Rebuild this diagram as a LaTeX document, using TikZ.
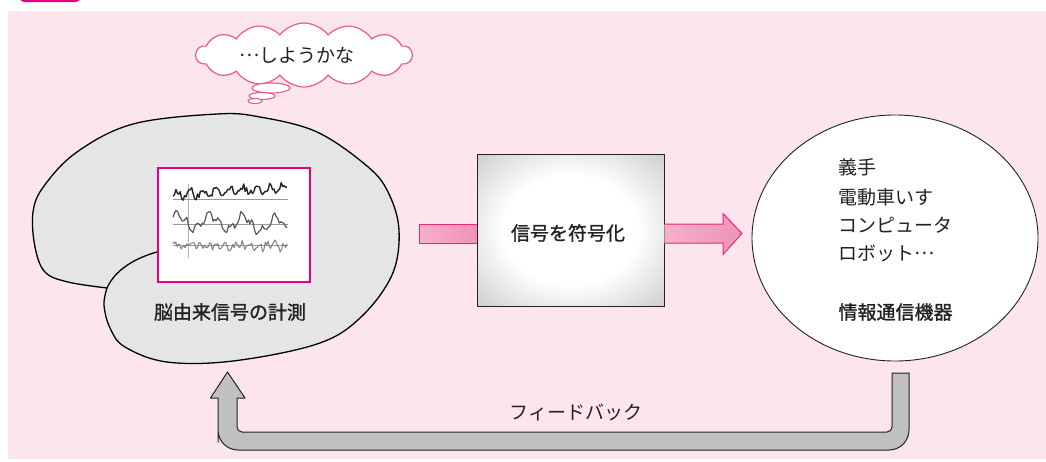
\documentclass[tikz,border=0pt]{standalone}
\usepackage{fontspec}
\setmainfont{Noto Sans CJK JP}
\newfontfamily\jpmid{Noto Sans CJK JP}[FakeBold=1.2]
\usetikzlibrary{calc,shapes.geometric,shapes.symbols}

\definecolor{bgpink}{RGB}{252,229,237}
\definecolor{mag}{RGB}{228,0,127}
\definecolor{cloudpink}{RGB}{236,88,140}
\definecolor{arrowfillA}{RGB}{246,176,203}
\definecolor{arrowfillB}{RGB}{240,146,184}
\definecolor{arrowline}{RGB}{230,40,120}
\definecolor{brainfill}{RGB}{229,229,232}
\definecolor{fbfill}{RGB}{192,192,192}
\definecolor{ink}{RGB}{34,34,34}
\definecolor{glowmid}{RGB}{176,176,176}
\definecolor{glowedge}{RGB}{130,130,130}

% soft white glow in the middle of the coding box
\pgfdeclareradialshading{boxglow}{\pgfpoint{0bp}{0bp}}{%
  color(0bp)=(white); color(18bp)=(white); color(46bp)=(glowmid); color(72bp)=(glowedge)}

% centred ellipsis, as in Japanese typesetting
\newcommand{\jpdots}{\raisebox{0.3em}{…}}

\tikzset{
  jp/.style={text=ink, font=\fontsize{19}{23}\selectfont},
  jpbold/.style={text=ink, font=\fontsize{19}{23}\selectfont\jpmid},
  brainline/.style={draw=black, line width=1.3pt},
  wavebox/.style={draw=mag, fill=white, line width=1.4pt, inner sep=0pt},
  bubble/.style={ellipse, draw=cloudpink, fill=white, line width=1.1pt, inner sep=0pt},
  pinkarrow/.style={draw=arrowline, line width=1pt, left color=arrowfillA, right color=arrowfillB},
  fbarrow/.style={draw=ink, line width=1pt, fill=fbfill, line join=round},
  trace/.style={line width=#1, line join=round},
}

\begin{document}
\begin{tikzpicture}[x=1pt,y=-1pt]
\useasboundingbox (0,0) rectangle (1046,461);

% page background and heading badge
\fill[bgpink] (8,11) rectangle (1046,459);
\fill[mag, rounded corners=4pt] (20,-12) rectangle (80,2);

% brain outline
\filldraw[brainline, fill=brainfill] plot[smooth, tension=0.6] coordinates {
  (107,288) (104,305) (110,328) (125,347) (167,362) (233,361) (317,344)
  (360,318) (392,275) (399,230) (388,192) (367,166) (317,132) (260,117)
  (217,114) (133,124) (77,152) (44,186) (33,212) (35,247) (45,272)
  (68,282) (107,288)} -- cycle;
\draw[brainline] (107,288) .. controls (115,270) and (135,258) .. (157,252);

% recorded signals
\node[wavebox, minimum width=152pt, minimum height=114pt] (eeg) at (234,225) {};
\draw[gray!60, line width=0.5pt] (188,184) -- (188,258);
\draw[gray!80, line width=0.6pt] (173,199) -- (288,199) (173,224) -- (288,224) (173,245) -- (288,245);
\pgfmathsetseed{17}
\draw[trace=1.4pt, draw=black!85] plot[domain=0:114, samples=80]
  (173+\x, {194 - 4*sin(\x*27) - 3.4*rand - 0.05*\x});
\draw[trace=1.2pt, draw=black!65] plot[domain=0:114, samples=75]
  (173+\x, {221 - 7*sin(\x*11+40) - 3.5*sin(\x*33) - 2.4*rand + 0.04*\x});
\draw[trace=1pt, draw=black!50] plot[domain=0:114, samples=85]
  (173+\x, {246 - 4.2*rand - 2.5*sin(\x*43)});
\node[jpbold] (eeglabel) at (230,312) {脳由来信号の計測};

% thought cloud
\node[cloud, draw=cloudpink, fill=white, line width=1.2pt, cloud puffs=14,
  cloud puff arc=105, cloud ignores aspect, minimum width=216pt,
  minimum height=64pt, inner sep=0pt] (thought) at (304,55) {};
\node[jp] (thoughttext) at (297,55) {\jpdots しようかな};
\node[bubble, minimum width=38pt, minimum height=10pt] (bub1) at (271,88) {};
\node[bubble, minimum width=26pt, minimum height=7pt] (bub2) at (262,96) {};
\node[bubble, minimum width=14pt, minimum height=5pt] (bub3) at (255,101) {};

% coding stage
\coordinate (inA) at (419,233.5);
\coordinate (outB) at (742,233.5);
\node[draw=ink, line width=0.9pt, shading=boxglow, minimum width=187pt,
  minimum height=152pt, inner sep=0pt] (code) at (570.5,230) {};
\node[jpbold] (codetext) at (568,233) {信号を符号化};

\path[pinkarrow] ($(inA -| code.west)+(0,-9.5)$) -- ($(inA)+(0,-9.5)$)
  -- ($(inA)+(0,9.5)$) -- ($(inA -| code.west)+(0,9.5)$);
\path[pinkarrow] ($(inA -| code.east)+(0,-9.5)$) -- ($(outB)+(-19,-9.5)$)
  -- ($(outB)+(-19,-20)$) -- (outB) -- ($(outB)+(-19,21)$)
  -- ($(outB)+(-19,9.5)$) -- ($(inA -| code.east)+(0,9.5)$);

% output devices
\node[ellipse, draw=ink, fill=white, line width=0.9pt, minimum width=286pt,
  minimum height=246pt, inner sep=0pt] (dev) at (895,238) {};
\node[jp, anchor=west] (d1) at (835,167) {義手};
\node[jp, anchor=west] (d2) at (835,197) {電動車いす};
\node[jp, anchor=west] (d3) at (835,225) {コンピュータ};
\node[jp, anchor=west] (d4) at (835,253) {ロボット\jpdots};
\node[jpbold, anchor=west] (d5) at (835,312) {情報通信機器};

% feedback path back to the brain
\coordinate (fbR) at (900.5,373);
\coordinate (fbL) at (227.5,372);
\draw[fbarrow]
  ($(fbR)+(8.5,0)$) -- ($(fbR)+(8.5,30)$) [rounded corners=20pt]
  -- ($(fbR)+(8.5,77)$) -- ($(fbL)+(-9.5,78)$)
  -- ($(fbL)+(-9.5,50)$) [sharp corners]
  -- ($(fbL)+(-9.5,26)$) -- ($(fbL)+(-17,26)$) -- (fbL)
  -- ($(fbL)+(17.5,26)$) -- ($(fbL)+(9.5,26)$)
  -- ($(fbL)+(9.5,40)$) [rounded corners=5pt]
  -- ($(fbL)+(9.5,60)$) -- ($(fbR)+(-8.5,59)$)
  -- ($(fbR)+(-8.5,30)$) [sharp corners]
  -- ($(fbR)+(-8.5,0)$) -- cycle;
\node[jp] (fbtext) at (576,412) {フィードバック};
\end{tikzpicture}
\end{document}
